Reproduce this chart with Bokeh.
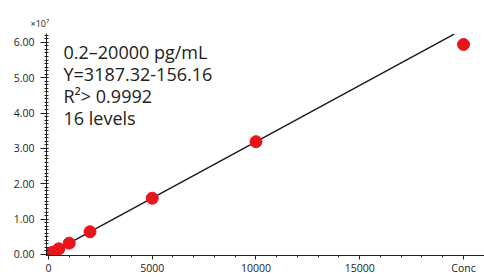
from bokeh.plotting import figure
from bokeh.models import Range1d, Label, FixedTicker, NumeralTickFormatter
from bokeh.embed import file_html
from bokeh.resources import INLINE

# Concentration levels (pg/mL) and responses (x10^7)
conc = [0.2, 0.5, 1, 2, 5, 10, 20, 50, 100, 200, 500, 1000, 2000, 5000, 10000, 20000]
resp = [0.0000, 0.0001, 0.0003, 0.0006, 0.0016, 0.0032, 0.0064, 0.016, 0.032,
        0.064, 0.16, 0.32, 0.64, 1.59, 3.19, 5.94]

# Calibration fit (from chart annotation)
fit_slope = 3187.32
fit_intercept = -156.16
fit_x = [0, 19550]
fit_y = [(fit_slope * v + fit_intercept) / 1e7 for v in fit_x]

x_ticks = [0, 5000, 10000, 15000, 20000]
x_tick_labels = {20000: "Conc"}
y_ticks = [0, 1, 2, 3, 4, 5, 6]

notes = ["0.2\u201320000 pg/mL", "Y=3187.32-156.16", "R\u00b2> 0.9992", "16 levels"]
note_y = [5.72, 5.10, 4.48, 3.86]

FONT = "Open Sans"
TXT = "#222222"

p = figure(width=484, height=277, output_backend="svg", toolbar_location=None,
           x_range=Range1d(-96, 21012), y_range=Range1d(-0.03, 6.25),
           min_border_left=46, min_border_right=0, min_border_top=33, min_border_bottom=0,
           title="\u00d710\u2077")
p.outline_line_color = None
p.grid.visible = False
p.background_fill_color = "white"

p.title.text_font = FONT
p.title.text_font_size = "9px"
p.title.text_font_style = "normal"
p.title.text_color = TXT
p.title.align = "left"
p.title.offset = -16
p.title.standoff = 8

p.line(fit_x, fit_y, line_color="#1a1a1a", line_width=1.4)
p.scatter(conc, resp, size=12, fill_color="#e8151b", line_color="#e8151b")

xa = p.xaxis[0]
xa.ticker = FixedTicker(ticks=x_ticks, minor_ticks=list(range(0, 22000, 1000)))
xa.major_label_overrides = x_tick_labels
xa.major_tick_out = 4
xa.major_tick_in = 0
xa.minor_tick_out = 2
xa.minor_tick_in = 0
xa.major_label_standoff = 1
xa.major_label_text_font = FONT
xa.major_label_text_font_size = "10.5px"
xa.major_label_text_color = TXT
xa.axis_line_color = "#222222"
xa.major_tick_line_color = "#222222"
xa.minor_tick_line_color = "#222222"

ya = p.yaxis[0]
ya.ticker = FixedTicker(ticks=y_ticks, minor_ticks=[i / 10 for i in range(0, 63)])
ya.formatter = NumeralTickFormatter(format="0.00")
ya.major_tick_out = 6
ya.major_tick_in = 2
ya.minor_tick_out = 2
ya.minor_tick_in = 2
ya.major_label_standoff = 6
ya.major_label_text_font = FONT
ya.major_label_text_font_size = "10.5px"
ya.major_label_text_color = TXT
ya.axis_line_color = "#222222"
ya.major_tick_line_color = "#222222"
ya.minor_tick_line_color = "#222222"

for t, yy in zip(notes, note_y):
    p.add_layout(Label(x=723, y=yy, text=t, text_font=FONT, text_font_size="18px",
                       text_color=TXT, text_baseline="middle", text_align="left"))

open("out.html", "w").write(file_html(p, INLINE))
